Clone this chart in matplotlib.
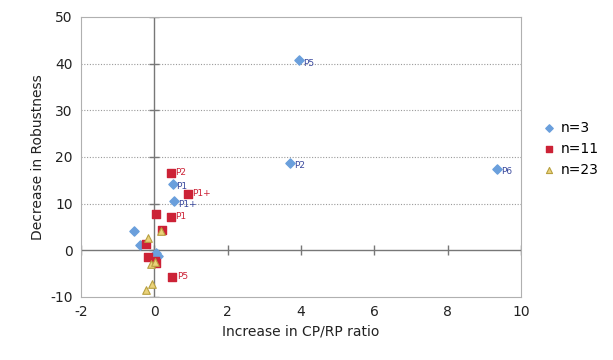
import matplotlib
matplotlib.use("Agg")
import matplotlib.pyplot as plt

plt.rcParams["axes.unicode_minus"] = False

# n=3 (blue diamonds)
n3_x = [3.95, 3.7, 9.35, 0.5, 0.55, -0.55, -0.4, 0.05, 0.1]
n3_y = [40.7, 18.7, 17.5, 14.2, 10.5, 4.2, 1.1, -0.5, -1.2]
n3_lab = ["P5", "P2", "P6", "P1", "P1+", "", "", "", ""]

# n=11 (red squares)
n11_x = [0.45, 0.92, 0.04, 0.45, 0.22, -0.22, -0.18, 0.06, 0.02, 0.49]
n11_y = [16.5, 12.0, 7.8, 7.1, 4.3, 1.3, -1.4, -2.8, -2.2, -5.8]
n11_lab = ["P2", "P1+", "", "P1", "", "", "", "", "", "P5"]

# n=23 (yellow triangles)
n23_x = [-0.18, 0.19, -0.1, 0.02, -0.07, -0.22]
n23_y = [2.7, 4.2, -2.9, -2.5, -7.3, -8.6]

xticks = [-2, 0, 2, 4, 6, 8, 10]
yticks = [-10, 0, 10, 20, 30, 40, 50]

blue = "#6a9fdc"
red = "#cc2236"
yellow = "#ead27a"

fig = plt.figure(figsize=(6.13, 3.6), dpi=100)
ax = fig.add_axes([0.132, 0.175, 0.718, 0.778])

for y in yticks[2:-1]:
    ax.axhline(y, color="#9a9a9a", lw=0.8, ls=(0, (1, 1.5)), zorder=0)
ax.axhline(0, color="#777777", lw=1.0, zorder=1)
ax.axvline(0, color="#777777", lw=1.0, zorder=1)
ax.plot(xticks, [0] * len(xticks), ls="none", marker="|", ms=7, color="#777777", zorder=1)
ax.plot([0] * len(yticks), yticks, ls="none", marker="_", ms=7, color="#777777", zorder=1)

ax.scatter(n3_x, n3_y, marker="D", s=22, color=blue, zorder=3, label="n=3")
ax.scatter(n11_x, n11_y, marker="s", s=26, color=red, zorder=3, label="n=11")
ax.scatter(n23_x, n23_y, marker="^", s=30, color=yellow, edgecolor="#b8a040",
           linewidths=0.8, zorder=4, label="n=23")

for x, y, t in zip(n3_x, n3_y, n3_lab):
    if t:
        ax.text(x + 0.1, y - 0.6, t, color="#3b4a9e", fontsize=6.5, va="center", ha="left")
for x, y, t in zip(n11_x, n11_y, n11_lab):
    if t:
        ax.text(x + 0.12, y + 0.2, t, color=red, fontsize=6.5, va="center", ha="left")

ax.set_xlim(-2, 10)
ax.set_ylim(-10, 50)
ax.set_xticks(xticks)
ax.set_yticks(yticks)
ax.tick_params(length=0, labelsize=10, pad=6, colors="#222222")
for s in ax.spines.values():
    s.set_color("#b0b0b0")
    s.set_linewidth(0.8)

ax.set_xlabel("Increase in CP/RP ratio", fontsize=10, color="#222222")
ax.set_ylabel("Decrease in Robustness", fontsize=10, color="#222222")

ax.legend(loc="center left", bbox_to_anchor=(1.02, 0.53), frameon=False,
          fontsize=10, handletextpad=0.3, labelspacing=0.5, markerscale=0.8,
          handlelength=1.0)

fig.savefig("out.png", dpi=100)
